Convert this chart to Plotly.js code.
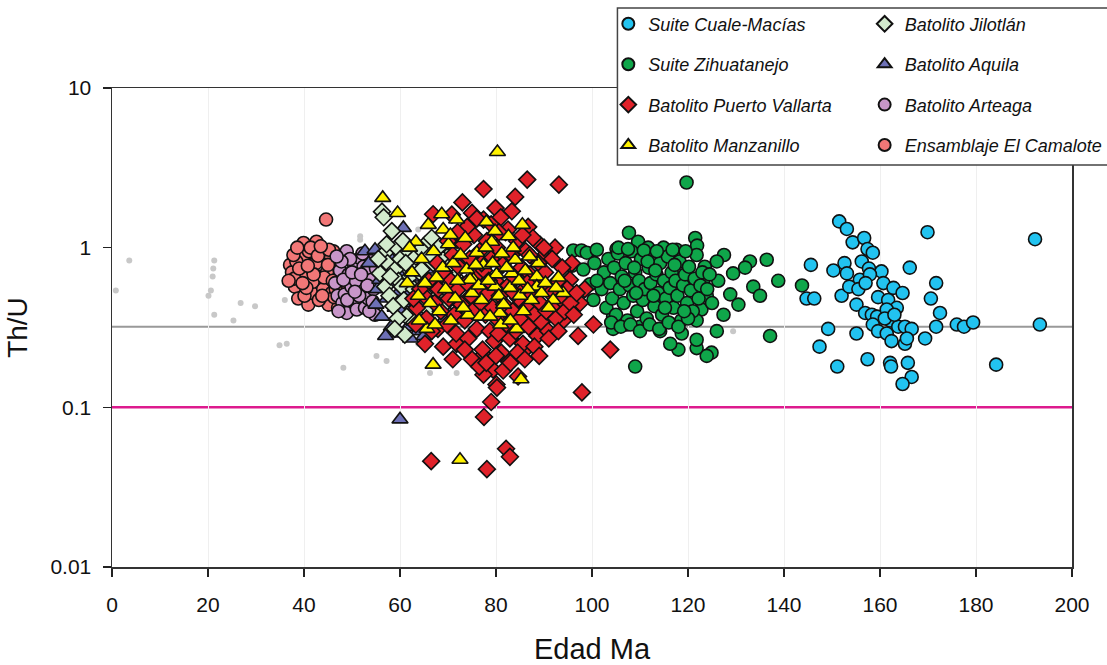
<!DOCTYPE html>
<html>
<head>
<meta charset="utf-8">
<script src="https://cdn.plot.ly/plotly-3.0.1.min.js"></script>
<style>html,body{margin:0;padding:0;background:#fff}#chart{width:1107px;height:665px}</style>
</head>
<body>
<div id="chart"></div>
<script>
// ---- data: [Edad Ma, Th/U] ----
const otros = [[0.8,0.54],[3.6,0.83],[21.3,0.83],[21.1,0.74],[20.97,0.66],[20.6,0.54],[20.1,0.50],[21.3,0.38],[25.3,0.35],[26.8,0.45],[29.8,0.43],[34.9,0.245],[36.4,0.25],[36.0,0.47],[51.7,1.18],[51.7,1.12],[55.1,0.21],[57.2,0.195],[48.2,0.177],[63.8,1.30],[57.9,0.32],[63.8,0.25],[71.8,0.164],[66.25,0.164],[129.4,0.30],[98.9,0.80],[94.7,0.73]];

const cualeMacias = [[151.5,1.46],[153.1,1.31],[154.3,1.08],[156.7,1.15],[157.4,0.98],[158.5,0.93],[169.9,1.25],[192.3,1.13],[145.6,0.78],[150.3,0.72],[152.6,0.80],[153.1,0.69],[156.2,0.82],[157.7,0.74],[155.8,0.63],[160.3,0.71],[166.2,0.75],[171.7,0.60],[144.7,0.48],[146.3,0.48],[152.0,0.50],[153.6,0.57],[155.5,0.55],[160.7,0.60],[162.8,0.56],[164.7,0.52],[170.6,0.48],[155.1,0.44],[159.6,0.49],[161.7,0.47],[163.5,0.42],[156.9,0.39],[158.3,0.38],[159.4,0.37],[161.4,0.41],[172.5,0.39],[158.5,0.33],[162.1,0.35],[163.8,0.32],[165.2,0.32],[166.6,0.31],[149.2,0.31],[155.1,0.29],[159.6,0.30],[161.4,0.29],[162.4,0.26],[165.2,0.25],[165.6,0.27],[169.4,0.27],[171.7,0.32],[176.0,0.33],[177.5,0.32],[179.4,0.34],[193.3,0.33],[147.4,0.24],[157.4,0.20],[151.1,0.18],[162.1,0.19],[162.3,0.18],[165.8,0.19],[166.6,0.155],[164.7,0.14],[184.2,0.185],[157.9,0.68],[157.0,0.60],[161.0,0.36],[163.0,0.38]];

const zihuatanejo = [[119.7,2.56],[107.7,1.24],[96.1,0.96],[97.8,0.96],[98.9,0.93],[101.0,0.97],[105.1,0.98],[109.6,1.09],[111.7,1.0],[114.9,1.0],[117.6,0.97],[121.5,1.15],[121.9,1.03],[127.5,0.90],[126.0,0.82],[132.9,0.82],[136.4,0.84],[129.4,0.69],[131.9,0.75],[138.8,0.62],[126.3,0.62],[133.6,0.57],[135.0,0.50],[128.8,0.51],[130.5,0.44],[127.4,0.38],[126.0,0.30],[137.1,0.28],[124.9,0.22],[123.9,0.21],[121.8,0.235],[121.8,0.265],[118.0,0.23],[116.3,0.25],[109.0,0.18],[104.4,0.31],[96.8,0.44],[95.8,0.77],[98.2,0.73],[100.3,0.47],[99.6,0.59],[123.9,0.50],[123.5,0.76],[123.2,0.62],[122.8,0.41],[121.8,0.35],[118.7,0.29],[114.2,0.30],[110.0,0.32],[107.2,0.33],[104.4,0.37],[143.75,0.58],
[102.0,0.55],[102.5,0.70],[103.0,0.42],[103.4,0.85],[103.8,0.60],[104.2,0.48],[104.6,0.75],[105.0,0.38],[105.4,0.92],[105.8,0.55],[106.2,0.66],[106.6,0.45],[107.0,0.80],[107.4,0.35],[107.8,0.58],[108.2,0.95],[108.6,0.50],[109.0,0.70],[109.4,0.40],[109.8,0.62],[110.2,0.85],[110.6,0.47],[111.0,0.55],[111.4,0.36],[111.8,0.75],[112.2,0.60],[112.6,0.90],[113.0,0.43],[113.4,0.68],[113.8,0.52],[114.2,0.80],[114.6,0.38],[115.0,0.62],[115.4,0.48],[115.8,0.88],[116.2,0.56],[116.6,0.70],[117.0,0.42],[117.4,0.62],[117.8,0.50],[118.2,0.82],[118.6,0.35],[119.0,0.58],[119.4,0.68],[119.8,0.45],[120.2,0.76],[120.6,0.54],[121.0,0.40],[121.4,0.64],[121.8,0.90],[122.2,0.48],[122.6,0.58],[123.0,0.70],[104.0,0.34],[106.0,0.32],[108.0,0.33],[110.0,0.30],[112.0,0.33],[114.0,0.31],[116.0,0.34],[118.0,0.32],[120.0,0.36],[105.5,1.00],[107.5,0.98],[110.8,0.96],[113.5,0.95],[116.8,0.97],[119.5,0.95],[106.8,0.62],[109.2,0.52],[111.6,0.82],[113.2,0.72],[115.2,0.42],[117.2,0.78],[119.2,0.40],[112.8,0.50],[108.8,0.75],[101.0,0.62],[100.5,0.80],[124.0,0.55],[125.0,0.45],[124.5,0.68]];

const puertoVallarta = [[86.5,2.67],[93.1,2.48],[77.4,2.33],[84.0,2.08],[73.0,1.92],[79.9,1.77],[83.3,1.69],[77.4,1.50],[86.7,1.35],[92.3,1.00],[89.2,1.04],[89.9,0.88],[95.1,0.62],[94.0,0.35],[97.1,0.28],[100.3,0.33],[103.8,0.23],[69.0,0.24],[71.8,0.25],[77.4,0.214],[82.2,0.20],[86.4,0.235],[79.4,0.172],[77.4,0.16],[84.6,0.156],[80.1,0.139],[97.9,0.124],[77.5,0.087],[79.0,0.108],[80.2,0.133],[66.5,0.046],[78.1,0.041],[82.1,0.055],[82.9,0.049],[70.8,1.61],[66.9,1.62],[75.0,1.65],[71.9,1.12],[63.3,0.33],[65.2,0.25],[67.9,0.31],[95.4,0.63],[97.5,0.45],[98.5,0.55],[95.8,0.80],
[68.0,0.55],[68.5,0.40],[69.2,0.70],[69.8,0.33],[70.2,0.48],[70.6,0.62],[71.0,0.90],[71.3,0.38],[71.7,0.29],[72.1,0.55],[72.4,0.75],[72.8,0.44],[73.2,1.05],[73.5,0.35],[73.9,0.60],[74.2,0.27],[74.5,0.85],[74.8,0.50],[75.1,0.40],[75.4,1.20],[75.7,0.66],[76.0,0.31],[76.3,0.55],[76.6,0.95],[76.9,0.45],[77.2,0.23],[77.5,0.72],[77.8,0.38],[78.1,1.10],[78.4,0.52],[78.7,0.30],[79.0,0.85],[79.3,0.42],[79.6,0.26],[79.9,0.62],[80.2,1.00],[80.5,0.35],[80.8,0.50],[81.1,0.22],[81.4,0.78],[81.7,0.44],[82.0,1.25],[82.3,0.33],[82.6,0.58],[82.9,0.27],[83.2,0.90],[83.5,0.40],[83.8,0.65],[84.1,0.30],[84.4,1.10],[84.7,0.48],[85.0,0.36],[85.3,0.75],[85.6,0.25],[85.9,0.55],[86.2,0.95],[86.5,0.42],[86.8,0.32],[87.1,0.68],[87.4,0.50],[87.7,1.15],[88.0,0.38],[88.3,0.60],[88.6,0.28],[88.9,0.80],[89.2,0.45],[89.5,0.34],[89.8,0.58],[90.2,0.70],[90.5,0.40],[90.9,0.30],[91.3,0.52],[91.7,0.85],[92.1,0.44],[92.5,0.36],[92.9,0.62],[93.4,0.48],[93.8,0.75],[94.3,0.40],[94.8,0.55],[95.5,0.45],[96.2,0.38],[96.8,0.52],[65.0,0.50],[65.5,0.36],[66.0,0.62],[66.6,0.30],[67.2,0.45],[67.8,0.80],[63.5,0.42],[64.2,0.55],[62.8,0.48],[75.0,0.20],[76.5,0.18],[78.0,0.19],[80.0,0.21],[81.5,0.17],[83.0,0.19],[84.5,0.22],[86.0,0.20],[88.0,0.24],[79.0,1.40],[81.0,1.55],[82.5,1.30],[80.6,1.25],[74.0,1.35],[76.0,1.52],[85.5,1.20],[87.0,0.90],[90.0,1.0],[72.0,1.25],[70.0,1.10],[91.0,0.27],[93.0,0.30],[71.0,0.20],[73.5,0.23],[89.0,0.21],[80.5,0.29],[78.5,0.62],[83.7,0.52],[77.0,0.80],[86.5,0.60]];

const manzanillo = [[80.3,3.97],[56.4,2.05],[59.5,1.65],[66.9,0.185],[72.5,0.047],[85.2,0.15],[63.3,1.09],[65.9,1.39],[68.7,1.62],[71.8,1.50],[85.5,1.39],[79.8,1.27],[79.1,1.09],[83.6,1.0],[88.8,0.80],[76.0,0.93],[77.4,0.78],[80.1,0.68],[84.0,0.84],[93.0,0.65],[94.0,0.52],[91.9,0.47],[87.4,0.47],[85.0,0.50],[82.9,0.56],[79.8,0.57],[77.0,0.47],[74.2,0.38],[76.7,0.37],[80.8,0.39],[85.7,0.40],[84.3,0.31],[78.75,0.37],[75.3,0.63],[73.9,0.73],[88.5,0.66],[88.5,0.57],[83.3,0.69],[65.6,0.31],[74.6,0.63],
[62.5,0.70],[63.8,0.50],[64.5,0.85],[65.2,0.60],[66.3,0.45],[67.0,0.95],[67.6,0.65],[68.2,0.40],[68.9,0.75],[69.5,0.55],[70.1,1.05],[70.6,0.35],[71.1,0.80],[71.5,0.48],[72.0,0.62],[72.6,0.90],[73.2,0.42],[73.6,1.15],[75.0,0.52],[75.8,0.78],[76.4,0.58],[77.9,1.00],[78.4,0.62],[79.3,0.80],[80.6,0.50],[81.2,0.92],[81.6,0.44],[82.2,0.75],[82.6,1.18],[84.8,0.62],[86.1,0.72],[86.6,0.55],[87.0,0.88],[89.5,0.52],[90.3,0.60],[91.0,0.42],[92.5,0.56],[69.0,1.30],[70.5,1.20],[62.0,1.00],[64.0,0.35],[67.3,0.33],[81.0,0.33],[83.0,0.35],[78.0,1.45],[61.5,0.60]];

const jilotlan = [[55.8,0.69],[56.25,1.68],[56.6,1.55],[56.9,0.93],[56.9,0.57],[57.4,0.80],[57.8,0.50],[58.3,1.27],[58.6,0.43],[59.0,0.73],[59.3,1.00],[59.7,0.62],[60.1,0.85],[60.4,0.57],[60.8,0.47],[61.0,0.285],[61.4,0.37],[61.8,0.95],[62.1,0.66],[62.4,0.76],[62.9,0.55],[63.3,0.88],[63.7,0.44],[64.1,0.70],[64.5,0.73],[64.9,0.52],[65.3,1.05],[65.7,0.62],[66.1,0.40],[66.6,1.15],[66.9,0.80],[67.4,0.58],[67.8,0.90],[68.3,1.02],[68.7,0.68],[69.0,0.84],[69.5,0.50],[70.0,0.75],[70.4,0.52],[70.9,0.94],[71.4,0.66],[72.2,1.02],[72.5,0.58],[57.2,1.05],[58.0,0.66],[59.5,0.36],[60.6,1.10],[61.2,0.80],[63.0,0.34],[64.3,0.98],[66.4,0.90],[67.0,0.47],[69.2,0.44],[55.5,0.85],[58.9,0.31]];

const aquila = [[52.7,0.95],[53.5,0.80],[54.8,0.97],[55.3,0.55],[55.8,0.63],[56.2,0.37],[56.8,0.75],[57.3,0.48],[57.8,0.88],[58.2,0.32],[58.5,0.60],[59.0,0.42],[59.3,0.29],[59.6,0.70],[60.0,0.084],[60.4,1.05],[60.7,1.33],[61.0,0.52],[61.3,0.38],[61.7,0.32],[62.1,0.57],[62.5,0.85],[62.8,0.45],[63.2,0.65],[63.6,0.35],[64.0,0.75],[64.5,0.39],[64.8,0.55],[65.3,0.92],[65.8,0.48],[66.25,0.73],[66.8,0.42],[67.1,0.33],[67.6,0.60],[68.2,0.50],[68.8,0.80],[69.3,0.36],[69.7,0.41],[70.3,0.55],[70.8,0.68],[71.3,0.46],[71.8,0.63],[57.0,0.28],[58.8,0.97],[60.2,0.40],[62.2,0.27],[63.8,0.30],[65.0,0.28],[55.0,0.44],[59.8,0.53],[61.6,0.78],[66.0,0.60]];

const arteaga = [[46.5,0.60],[47.0,0.50],[47.5,0.72],[48.0,0.45],[48.5,0.51],[48.9,0.95],[48.9,0.39],[49.3,0.68],[49.9,0.57],[50.3,0.80],[50.5,0.45],[51.0,0.41],[51.2,0.66],[51.7,0.86],[52.0,0.53],[52.4,0.76],[52.4,0.60],[52.7,0.42],[53.0,0.70],[53.4,0.48],[53.8,0.88],[54.1,0.63],[54.5,0.55],[54.8,0.38],[55.0,0.74],[49.6,0.85],[50.8,0.62],[47.8,0.82],[48.2,0.63],[49.0,0.47],[50.0,0.70],[51.5,0.50],[52.2,0.92],[53.2,0.58],[53.6,0.40],[47.2,0.40],[46.8,0.88],[50.6,0.53],[51.9,0.68],[54.3,0.46]];

const camalote = [[37.1,0.78],[37.5,0.70],[38.1,0.57],[38.8,0.48],[39.2,0.93],[39.9,1.07],[40.3,0.88],[40.6,0.63],[40.9,0.44],[41.2,0.72],[41.6,0.78],[41.9,0.52],[42.2,0.98],[42.6,1.09],[43.0,0.66],[43.3,0.60],[43.7,0.85],[44.0,0.55],[44.4,0.84],[44.6,1.50],[45.1,0.44],[45.4,0.75],[45.8,0.52],[46.1,0.95],[46.5,0.68],[46.8,0.73],[47.1,0.42],[47.5,0.58],[47.9,0.63],[38.4,0.82],[39.5,0.66],[40.1,0.50],[41.0,0.95],[41.8,0.61],[42.5,0.80],[43.1,0.47],[43.9,0.92],[44.8,0.70],[45.6,0.86],[46.3,0.49],[47.0,0.80],[38.0,0.64],[39.0,0.74],[40.5,0.56],[41.4,1.00],[42.9,0.89],[44.2,0.65],[45.2,0.97],[46.6,0.55],[47.7,0.88],[39.7,0.60],[42.0,0.68],[43.5,1.02],[45.0,0.78],[46.0,0.62],[40.8,0.77],[37.8,0.90],[36.8,0.62],[38.6,1.0],[43.8,0.50]];

const seriesNames = ['Suite Cuale-Macías','Suite Zihuatanejo','Batolito Puerto Vallarta','Batolito Manzanillo','Batolito Jilotlán','Batolito Aquila','Batolito Arteaga','Ensamblaje El Camalote'];
const refLineGray = 0.32;
const refLineMagenta = 0.1;
const xTicks = [0,20,40,60,80,100,120,140,160,180,200];
const yTicks = [0.01,0.1,1,10];
const yTickText = ['0.01','0.1','1','10'];

// ---- styling ----
const styleOf = {
  'Suite Cuale-Macías': {data: cualeMacias, color:'#22c3f0', symbol:'circle', size:13, legend:'legend', rank:1},
  'Suite Zihuatanejo': {data: zihuatanejo, color:'#0fa64a', symbol:'circle', size:13, legend:'legend', rank:2},
  'Batolito Puerto Vallarta': {data: puertoVallarta, color:'#e0222a', symbol:'diamond', size:13, legend:'legend', rank:3},
  'Batolito Manzanillo': {data: manzanillo, color:'#fff200', symbol:'triangle-up', size:14, legend:'legend', rank:4},
  'Batolito Jilotlán': {data: jilotlan, color:'#d2ebcc', symbol:'diamond', size:13, legend:'legend2', rank:5},
  'Batolito Aquila': {data: aquila, color:'#6d70b6', symbol:'triangle-up', size:14, legend:'legend2', rank:6},
  'Batolito Arteaga': {data: arteaga, color:'#c896c9', symbol:'circle', size:13, legend:'legend2', rank:7},
  'Ensamblaje El Camalote': {data: camalote, color:'#f27777', symbol:'circle', size:13, legend:'legend2', rank:8}
};
const drawOrder = ['Suite Cuale-Macías','Suite Zihuatanejo','Ensamblaje El Camalote','Batolito Arteaga','Batolito Aquila','Batolito Jilotlán','Batolito Puerto Vallarta','Batolito Manzanillo'];

const traces = [{
  type:'scatter', mode:'markers', showlegend:false, hoverinfo:'skip',
  x: otros.map(p=>p[0]), y: otros.map(p=>p[1]),
  marker:{size:6, color:'#c8c8c8', line:{width:0}}
}];
drawOrder.forEach(name => {
  const s = styleOf[name];
  traces.push({
    type:'scatter', mode:'markers', name:name, legend:s.legend, legendrank:s.rank, legendgroup:name,
    x: s.data.map(p=>p[0]), y: s.data.map(p=>p[1]),
    marker:{symbol:s.symbol, size:s.size, color:s.color, line:{color:'#111', width:1.6}}
  });
});

const FAM = '"Liberation Sans", Arial, sans-serif';
const legendFont = {family:FAM, size:18, color:'#111', style:'italic'};
const layout = {
  width:1107, height:665,
  margin:{l:112, r:35, t:88, b:98, autoexpand:false},
  paper_bgcolor:'#fff', plot_bgcolor:'#fff',
  font:{family:FAM, color:'#111'},
  xaxis:{
    range:[0,200], tickvals:xTicks, ticks:'outside', ticklen:8, tickwidth:1.5, tickcolor:'#222',
    ticklabelstandoff:10, automargin:false,
    showline:true, mirror:true, linecolor:'#333', linewidth:1.5,
    showgrid:true, gridcolor:'#efefef', gridwidth:1, zeroline:false,
    tickfont:{family:FAM, size:21, color:'#111'},
    title:{text:'Edad Ma', font:{family:FAM, size:29, color:'#111'}, standoff:24}
  },
  yaxis:{
    type:'log', range:[-2,1], tickvals:yTicks, ticktext:yTickText, ticks:'outside', ticklen:8, tickwidth:1.5, tickcolor:'#222',
    ticklabelstandoff:7, automargin:false,
    showline:true, mirror:true, linecolor:'#333', linewidth:1.5,
    showgrid:false, zeroline:false,
    tickfont:{family:FAM, size:21, color:'#111'},
    title:{text:'Th/U', font:{family:FAM, size:28, color:'#111'}, standoff:14}
  },
  shapes:[
    {type:'line', xref:'paper', yref:'y', x0:0, x1:1, y0:refLineGray, y1:refLineGray, line:{color:'#999', width:2}, layer:'below'},
    {type:'line', xref:'paper', yref:'y', x0:0, x1:1, y0:refLineMagenta, y1:refLineMagenta, line:{color:'#dd1a8e', width:2.5}, layer:'below'},
    {type:'rect', xref:'paper', yref:'paper', x0:0.5265, x1:1.2, y0:0.839, y1:1.167, line:{color:'#444', width:1.5}, fillcolor:'#fff', layer:'above'}
  ],
  legend:{x:0.517, xanchor:'left', y:1.172, yanchor:'top', bgcolor:'rgba(0,0,0,0)', borderwidth:0, font:legendFont, tracegroupgap:14, itemsizing:'constant'},
  legend2:{x:0.784, xanchor:'left', y:1.172, yanchor:'top', bgcolor:'rgba(0,0,0,0)', borderwidth:0, font:legendFont, tracegroupgap:14, itemsizing:'constant'}
};

Plotly.newPlot('chart', traces, layout, {staticPlot:true, displayModeBar:false});
</script>
</body>
</html>
